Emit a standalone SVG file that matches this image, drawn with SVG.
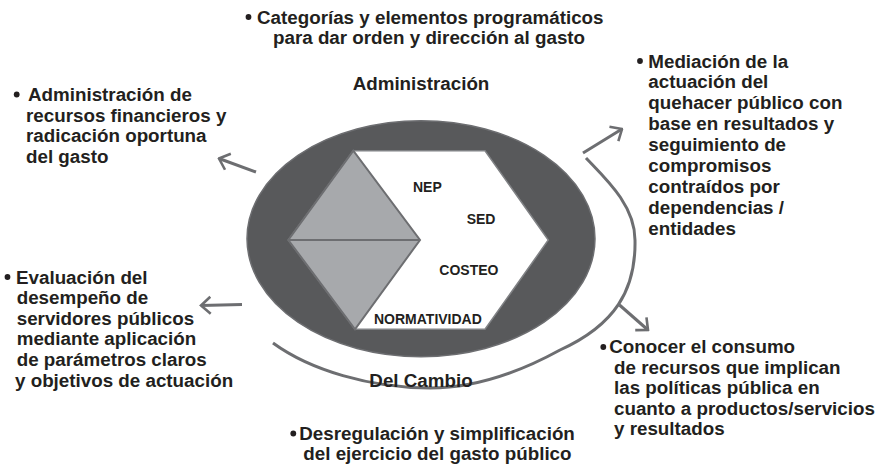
<svg xmlns="http://www.w3.org/2000/svg" width="878" height="464" viewBox="0 0 878 464">
<style>
.t{font-family:"Liberation Sans",Arial,sans-serif;font-weight:bold;font-size:18.8px;fill:#231f20}
.s{font-family:"Liberation Sans",Arial,sans-serif;font-weight:bold;font-size:14px;fill:#231f20}
.b{fill:#231f20}
.c{fill:none;stroke:#6d6e71;stroke-width:3}
</style>
<defs>
<marker id="ah" viewBox="0 0 12 20" refX="10.5" refY="10" markerWidth="12" markerHeight="20" markerUnits="userSpaceOnUse" orient="auto">
<path d="M1,1.5 L10.5,10 L1,18.5" fill="none" stroke="#6d6e71" stroke-width="2.6"/>
</marker>
</defs>
<rect width="878" height="464" fill="#ffffff"/>
<g id="core">
<ellipse cx="421" cy="238.7" rx="174" ry="118" fill="#58595b" stroke="#6d6e71" stroke-width="1.5"/>
<polygon points="353.3,150.7 485,150.7 548.3,240 485,329.3 355,329.3 288.3,240" fill="#ffffff" stroke="#808285" stroke-width="1.5"/>
<polygon points="288.3,240 353.3,150.7 420,240 355,329.3" fill="#a7a9ac" stroke="#6d6e71" stroke-width="2"/>
<line x1="288.3" y1="240" x2="420" y2="240" stroke="#6d6e71" stroke-width="2"/>
<text class="s" x="413" y="191.7">NEP</text>
<text class="s" x="466.7" y="224">SED</text>
<text class="s" x="439.3" y="275">COSTEO</text>
<text class="s" x="374" y="324">NORMATIVIDAD</text>
</g>
<g id="connectors">
<path class="c" d="M586,158 C605,178 635,205 635,240 C636,290 615,325 560,350 C520,372 475,388 430,388 C370,388 310,370 273,343"/>
<path class="c" d="M256,172 L219,158.5" marker-end="url(#ah)"/>
<path class="c" d="M242,304.5 L201,305.5" marker-end="url(#ah)"/>
<path class="c" d="M583,153 L622,129" marker-end="url(#ah)"/>
<path class="c" d="M619.5,305 L648,330" marker-end="url(#ah)"/>
</g>
<g id="label-administracion">
<text class="t" x="421" y="89.5" text-anchor="middle">Administración</text>
</g>
<g id="label-delcambio">
<text class="t" x="421" y="386.5" text-anchor="middle">Del Cambio</text>
</g>
<g id="top">
<circle class="b" cx="248.5" cy="17" r="2.9"/>
<text class="t" x="257" y="23.5">Categorías y elementos programáticos</text>
<text class="t" x="273" y="44">para dar orden y dirección al gasto</text>
</g>
<g id="top-left">
<circle class="b" cx="16.7" cy="94.5" r="2.9"/>
<text class="t" x="28" y="100.7">Administración de</text>
<text class="t" x="26" y="121.5">recursos financieros y</text>
<text class="t" x="26" y="142.3">radicación oportuna</text>
<text class="t" x="26" y="163.1">del gasto</text>
</g>
<g id="bottom-left">
<circle class="b" cx="7.5" cy="277" r="2.9"/>
<text class="t" x="16" y="283.5">Evaluación del</text>
<text class="t" x="16.7" y="304.1">desempeño de</text>
<text class="t" x="16.7" y="324.7">servidores públicos</text>
<text class="t" x="16.7" y="345.3">mediante aplicación</text>
<text class="t" x="16.7" y="365.9">de parámetros claros</text>
<text class="t" x="15" y="386.5">y objetivos de actuación</text>
</g>
<g id="top-right">
<circle class="b" cx="640" cy="61" r="2.9"/>
<text class="t" x="648.3" y="67.5">Mediación de la</text>
<text class="t" x="648.3" y="88.4">actuación del</text>
<text class="t" x="648.3" y="109.3">quehacer público con</text>
<text class="t" x="648.3" y="130.2">base en resultados y</text>
<text class="t" x="648.3" y="151.1">seguimiento de</text>
<text class="t" x="648.3" y="172">compromisos</text>
<text class="t" x="648.3" y="192.9">contraídos por</text>
<text class="t" x="648.3" y="213.8">dependencias /</text>
<text class="t" x="648.3" y="234.7">entidades</text>
</g>
<g id="bottom-right">
<circle class="b" cx="603.3" cy="347" r="2.9"/>
<text class="t" x="609.3" y="353.3">Conocer el consumo</text>
<text class="t" x="614" y="373.8">de recursos que implican</text>
<text class="t" x="614" y="394.3">las políticas pública en</text>
<text class="t" x="614" y="414.8">cuanto a productos/servicios</text>
<text class="t" x="614" y="435.3">y resultados</text>
</g>
<g id="bottom">
<circle class="b" cx="293.3" cy="433.5" r="2.9"/>
<text class="t" x="299.3" y="439.8">Desregulación y simplificación</text>
<text class="t" x="303.3" y="460">del ejercicio del gasto público</text>
</g>
</svg>
